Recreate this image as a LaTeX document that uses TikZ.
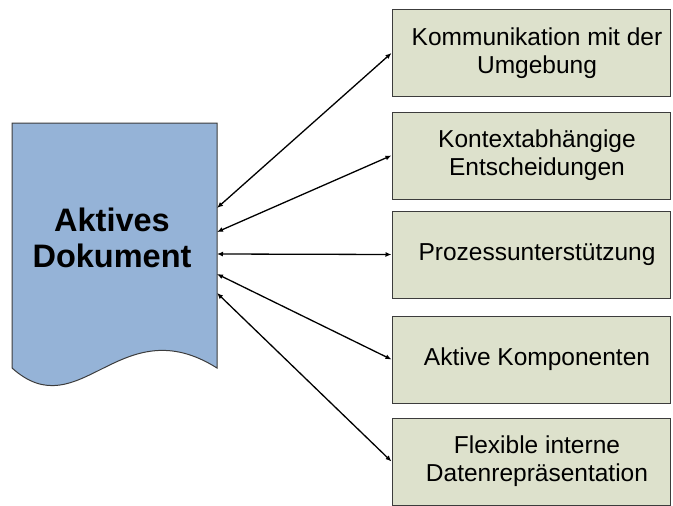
\documentclass[tikz,border=0pt]{standalone}
\usepackage{fontspec}
\setmainfont{Liberation Sans}
\usetikzlibrary{arrows.meta}
\definecolor{docblue}{RGB}{149,179,215}
\definecolor{boxgreen}{RGB}{221,225,204}
\definecolor{edgegray}{RGB}{60,60,60}
\tikzset{
  topic/.style={draw=edgegray, line width=1pt, fill=boxgreen, minimum width=278pt,
    minimum height=87pt, inner sep=0pt},
  topictext/.style={align=center, inner sep=0pt, xshift=6pt,
    font=\fontsize{24.5}{28}\selectfont},
  doctext/.style={align=center, font=\bfseries\fontsize{32.5}{36}\selectfont},
  link/.style={line width=1.3pt, {Latex[length=6pt,width=5pt]}-{Latex[length=6pt,width=5pt]}},
}
\begin{document}
\begin{tikzpicture}[x=1pt,y=-1pt]
\useasboundingbox (0,0) rectangle (673,506);
% document shape with wavy lower edge
\draw[draw=edgegray, line width=1pt, fill=docblue]
  (12,123) -- (217,123) -- (217,368)
  .. controls (120,307) and (80,429) .. (12,368) -- cycle;
\node[doctext] (doc) at (112,238) {Aktives\\Dokument};
% attachment points on the right side of the document
\coordinate (d1) at (217,208);
\coordinate (d2) at (217,232);
\coordinate (d3) at (217,254);
\coordinate (d4) at (217,274);
\coordinate (d5) at (217,293);
% topic boxes and their captions
\node[topic] (b1) at (531,53) {};
\node[topic] (b2) at (531,155.5) {};
\node[topic] (b3) at (531,254.5) {};
\node[topic] (b4) at (531,359.5) {};
\node[topic] (b5) at (531,461.5) {};
\node[topictext] (t1) at (b1.center) {Kommunikation mit der\\Umgebung};
\node[topictext] (t2) at (b2.center) {Kontextabhängige\\Entscheidungen};
\node[topictext] (t3) at (b3.center) {Prozessunterstützung};
\node[topictext] (t4) at (b4.center) {Aktive Komponenten};
\node[topictext] (t5) at (b5.center) {Flexible interne\\Datenrepräsentation};
% connectors
\draw[link] (d1) -- (b1.west);
\draw[link] (d2) -- (b2.west);
\draw[link] (d3) -- (b3.west);
\draw[link] (d4) -- (b4.west);
\draw[link] (d5) -- (b5.west);
\end{tikzpicture}
\end{document}
